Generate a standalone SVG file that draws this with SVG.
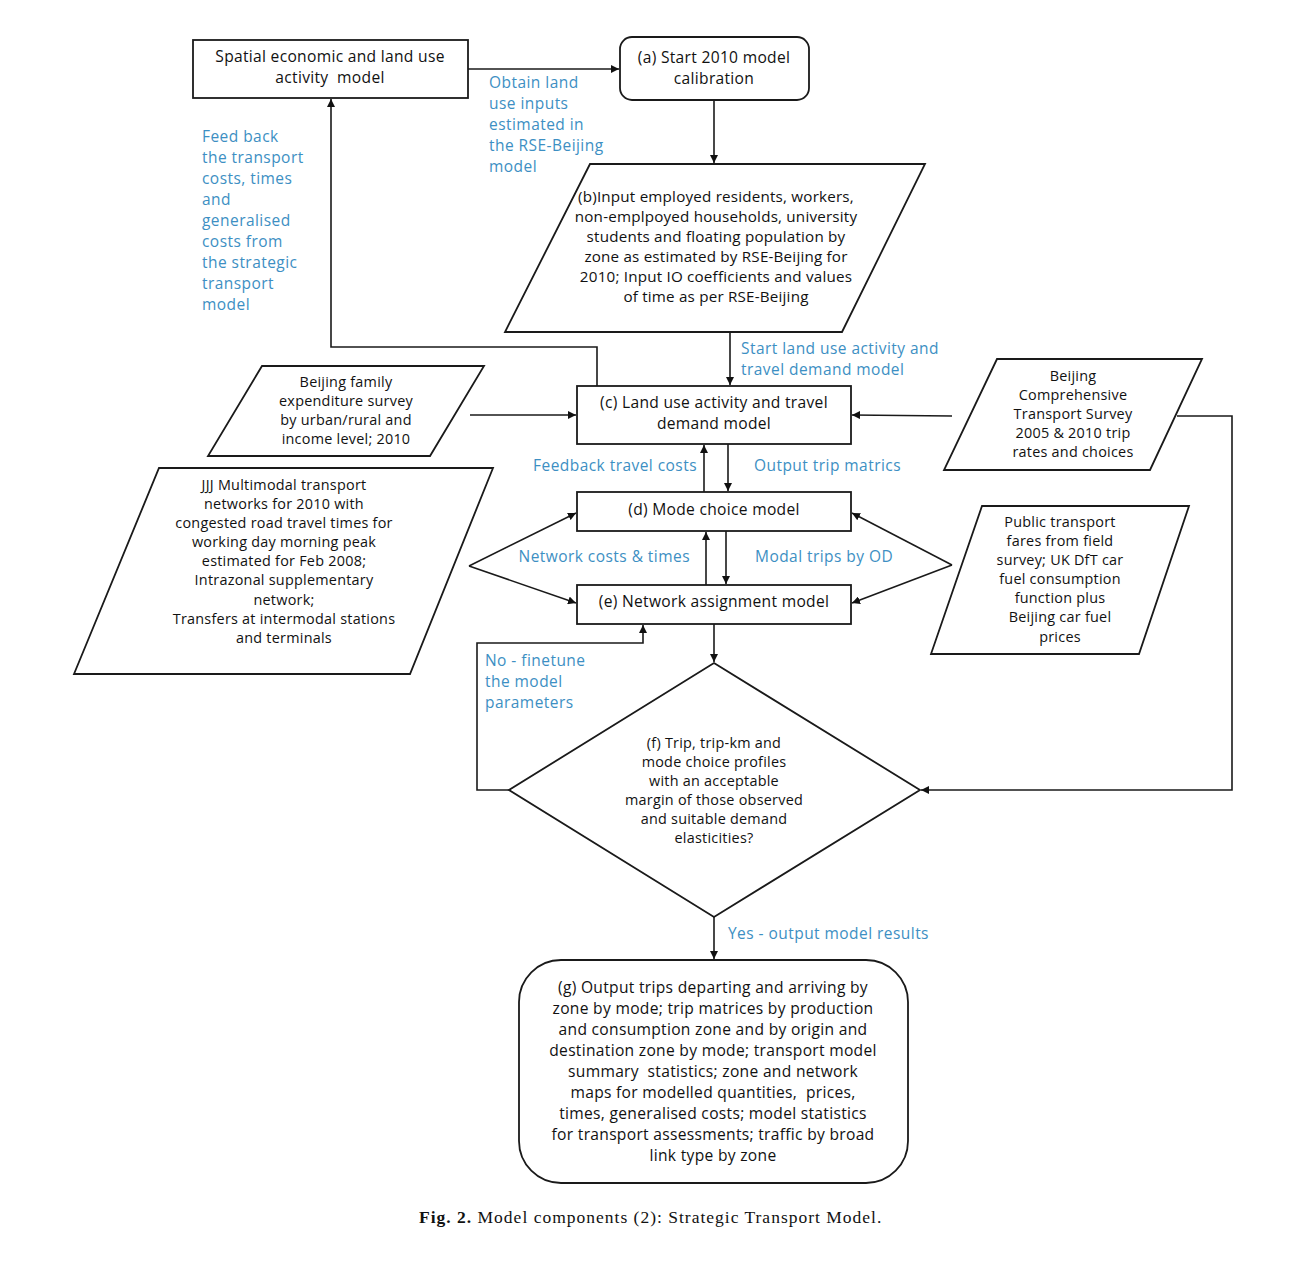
<svg xmlns="http://www.w3.org/2000/svg" width="1303" height="1262" viewBox="0 0 1303 1262">
<defs>
<marker id="ah" viewBox="0 0 10 10" refX="10" refY="5" markerWidth="8" markerHeight="8" markerUnits="userSpaceOnUse" orient="auto">
<path d="M0,0 L10,5 L0,10 z" fill="#111"/>
</marker>
<style>
.node{fill:#fff;stroke:#1a1a1a;stroke-width:1.8}
.t{font-family:"Open Sans","Noto Sans","Liberation Sans",sans-serif;font-size:15.6px;fill:#111;text-anchor:middle;letter-spacing:0.3px;white-space:pre}
.s{font-size:14.4px;letter-spacing:0.25px}
.m{font-size:15.2px;letter-spacing:0.2px}
.b{font-family:"Open Sans","Noto Sans","Liberation Sans",sans-serif;font-size:15.5px;fill:#3d8fc3;letter-spacing:0.45px}
.c{fill:none;stroke:#1a1a1a;stroke-width:1.6}
.cap{font-family:"Liberation Serif",serif;font-size:17.5px;fill:#111;letter-spacing:1px;white-space:pre}
</style>
</defs>
<rect width="1303" height="1262" fill="#fff"/>

<g id="connectors">
<line class="c" x1="468" y1="69" x2="619" y2="69" marker-end="url(#ah)"/>
<line class="c" x1="714" y1="100" x2="714" y2="163" marker-end="url(#ah)"/>
<line class="c" x1="730" y1="332" x2="730" y2="385" marker-end="url(#ah)"/>
<polyline class="c" points="597,386 597,347 331,347 331,99" marker-end="url(#ah)"/>
<line class="c" x1="470" y1="415" x2="576" y2="415" marker-end="url(#ah)"/>
<line class="c" x1="952" y1="416" x2="852" y2="415" marker-end="url(#ah)"/>
<line class="c" x1="704" y1="492" x2="704" y2="445" marker-end="url(#ah)"/>
<line class="c" x1="728" y1="444" x2="728" y2="491" marker-end="url(#ah)"/>
<line class="c" x1="706" y1="585" x2="706" y2="532" marker-end="url(#ah)"/>
<line class="c" x1="726" y1="531" x2="726" y2="584" marker-end="url(#ah)"/>
<line class="c" x1="469" y1="566" x2="576" y2="513" marker-end="url(#ah)"/>
<line class="c" x1="469" y1="566" x2="576" y2="603" marker-end="url(#ah)"/>
<line class="c" x1="952" y1="565" x2="852" y2="513" marker-end="url(#ah)"/>
<line class="c" x1="952" y1="565" x2="852" y2="603" marker-end="url(#ah)"/>
<polyline class="c" points="1177,416 1232,416 1232,790 921,790" marker-end="url(#ah)"/>
<line class="c" x1="714" y1="624" x2="714" y2="662" marker-end="url(#ah)"/>
<polyline class="c" points="509,790 477,790 477,643 643,643 643,625" marker-end="url(#ah)"/>
<line class="c" x1="714" y1="917" x2="714" y2="959" marker-end="url(#ah)"/>
</g>

<g id="labels">
<text class="b" x="489" y="88">Obtain land</text>
<text class="b" x="489" y="109">use inputs</text>
<text class="b" x="489" y="130">estimated in</text>
<text class="b" x="489" y="151">the RSE-Beijing</text>
<text class="b" x="489" y="172">model</text>
<text class="b" x="202" y="142">Feed back</text>
<text class="b" x="202" y="163">the transport</text>
<text class="b" x="202" y="184">costs, times</text>
<text class="b" x="202" y="205">and</text>
<text class="b" x="202" y="226">generalised</text>
<text class="b" x="202" y="247">costs from</text>
<text class="b" x="202" y="268">the strategic</text>
<text class="b" x="202" y="289">transport</text>
<text class="b" x="202" y="310">model</text>
<text class="b" x="741" y="354">Start land use activity and</text>
<text class="b" x="741" y="375">travel demand model</text>
<text class="b" x="697" y="471" text-anchor="end">Feedback travel costs</text>
<text class="b" x="754" y="471">Output trip matrics</text>
<text class="b" x="690" y="562" text-anchor="end">Network costs &amp; times</text>
<text class="b" x="755" y="562">Modal trips by OD</text>
<text class="b" x="485" y="666">No - finetune</text>
<text class="b" x="485" y="687">the model</text>
<text class="b" x="485" y="708">parameters</text>
<text class="b" x="728" y="939">Yes - output model results</text>
</g>

<g id="spatial">
<rect class="node" x="193" y="40" width="275" height="58"/>
<text class="t" x="330" y="62">Spatial economic and land use</text>
<text class="t" x="330" y="83">activity  model</text>
</g>

<g id="a">
<rect class="node" x="620" y="37" width="189" height="63" rx="12"/>
<text class="t" x="714" y="63">(a) Start 2010 model</text>
<text class="t" x="714" y="84">calibration</text>
</g>

<g id="b">
<polygon class="node" points="590,164 925,164 842,332 505,332"/>
<text class="t m" x="716" y="202">(b)Input employed residents, workers,</text>
<text class="t m" x="716" y="222">non-emplpoyed households, university</text>
<text class="t m" x="716" y="242">students and floating population by</text>
<text class="t m" x="716" y="262">zone as estimated by RSE-Beijing for</text>
<text class="t m" x="716" y="282">2010; Input IO coefficients and values</text>
<text class="t m" x="716" y="302">of time as per RSE-Beijing</text>
</g>

<g id="c">
<rect class="node" x="577" y="386" width="274" height="58"/>
<text class="t" x="714" y="408">(c) Land use activity and travel</text>
<text class="t" x="714" y="429">demand model</text>
</g>

<g id="d">
<rect class="node" x="577" y="492" width="274" height="39"/>
<text class="t" x="714" y="515">(d) Mode choice model</text>
</g>

<g id="e">
<rect class="node" x="577" y="585" width="274" height="39"/>
<text class="t" x="714" y="607">(e) Network assignment model</text>
</g>

<g id="family">
<polygon class="node" points="262,366 484,366 430,456 208,456"/>
<text class="t s" x="346" y="387">Beijing family</text>
<text class="t s" x="346" y="406">expenditure survey</text>
<text class="t s" x="346" y="425">by urban/rural and</text>
<text class="t s" x="346" y="444">income level; 2010</text>
</g>

<g id="jjj">
<polygon class="node" points="159,468 493,468 410,674 74,674"/>
<text class="t s" x="284" y="490">JJJ Multimodal transport</text>
<text class="t s" x="284" y="509">networks for 2010 with</text>
<text class="t s" x="284" y="528">congested road travel times for</text>
<text class="t s" x="284" y="547">working day morning peak</text>
<text class="t s" x="284" y="566">estimated for Feb 2008;</text>
<text class="t s" x="284" y="585">Intrazonal supplementary</text>
<text class="t s" x="284" y="605">network;</text>
<text class="t s" x="284" y="624">Transfers at intermodal stations</text>
<text class="t s" x="284" y="643">and terminals</text>
</g>

<g id="survey">
<polygon class="node" points="997,359 1202,359 1150,470 944,470"/>
<text class="t s" x="1073" y="381">Beijing</text>
<text class="t s" x="1073" y="400">Comprehensive</text>
<text class="t s" x="1073" y="419">Transport Survey</text>
<text class="t s" x="1073" y="438">2005 &amp; 2010 trip</text>
<text class="t s" x="1073" y="457">rates and choices</text>
</g>

<g id="fares">
<polygon class="node" points="982,506 1189,506 1139,654 931,654"/>
<text class="t s" x="1060" y="527">Public transport</text>
<text class="t s" x="1060" y="546">fares from field</text>
<text class="t s" x="1060" y="565">survey; UK DfT car</text>
<text class="t s" x="1060" y="584">fuel consumption</text>
<text class="t s" x="1060" y="603">function plus</text>
<text class="t s" x="1060" y="622">Beijing car fuel</text>
<text class="t s" x="1060" y="642">prices</text>
</g>

<g id="f">
<polygon class="node" points="714,663 920,790 714,917 509,790"/>
<text class="t s" x="714" y="748">(f) Trip, trip-km and</text>
<text class="t s" x="714" y="767">mode choice profiles</text>
<text class="t s" x="714" y="786">with an acceptable</text>
<text class="t s" x="714" y="805">margin of those observed</text>
<text class="t s" x="714" y="824">and suitable demand</text>
<text class="t s" x="714" y="843">elasticities?</text>
</g>

<g id="g">
<rect class="node" x="519" y="960" width="389" height="223" rx="42"/>
<text class="t" x="713" y="993">(g) Output trips departing and arriving by</text>
<text class="t" x="713" y="1014">zone by mode; trip matrices by production</text>
<text class="t" x="713" y="1035">and consumption zone and by origin and</text>
<text class="t" x="713" y="1056">destination zone by mode; transport model</text>
<text class="t" x="713" y="1077">summary  statistics; zone and network</text>
<text class="t" x="713" y="1098">maps for modelled quantities,  prices,</text>
<text class="t" x="713" y="1119">times, generalised costs; model statistics</text>
<text class="t" x="713" y="1140">for transport assessments; traffic by broad</text>
<text class="t" x="713" y="1161">link type by zone</text>
</g>

<text class="cap" x="419" y="1223"><tspan font-weight="bold">Fig. 2.</tspan> Model components (2): Strategic Transport Model.</text>
</svg>
